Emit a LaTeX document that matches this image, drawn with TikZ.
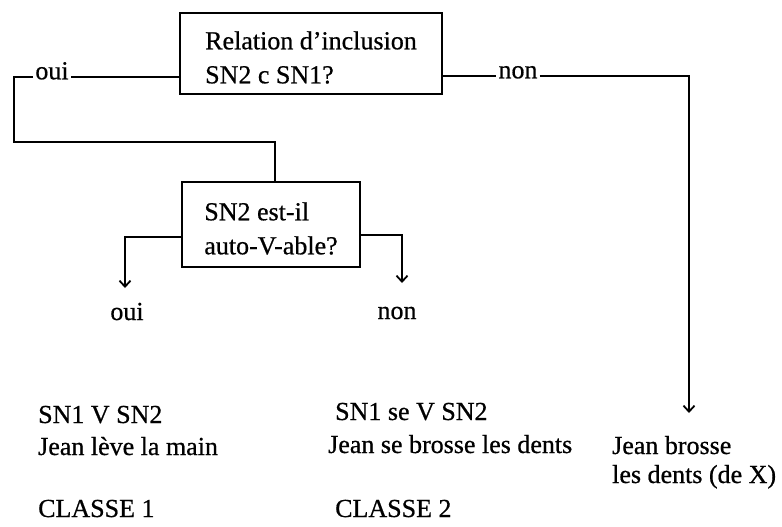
\documentclass[tikz,border=0pt]{standalone}
\usepackage{fontspec}
\setmainfont{Liberation Serif}[FakeBold=0.6]
\usetikzlibrary{arrows.meta}
\begin{document}
\begin{tikzpicture}[x=1pt,y=-1pt,
  every node/.style={font=\fontsize{26}{34}\selectfont},
  qbox/.style={draw, line width=2.2pt, align=left, inner sep=0pt},
  lbl/.style={inner sep=2pt, anchor=mid},
  txt/.style={inner sep=0pt, anchor=base west},
  conn/.style={line width=1.8pt},
  arr/.style={conn, -{Straight Barb[length=6pt,width=11pt,line width=1.8pt]}}]
\useasboundingbox[fill=white] (0,0) rectangle (782,527);
% question boxes
\node[qbox, minimum width=262pt, minimum height=81pt] (q1) at (311,53.5)
  {\rule{0pt}{26pt}Relation d’inclusion\\SN2 c SN1?};
\node[qbox, minimum width=178pt, minimum height=85pt] (q2) at (271,224.5)
  {\rule{0pt}{26pt}SN2 est-il\\auto-V-able?};
% branch labels
\node[lbl] (oui1) at (52,77) {oui};
\node[lbl] (non1) at (518,76) {non};
\node[txt, anchor=base] (oui2) at (127,320) {oui};
\node[txt, anchor=base] (non2) at (397,319) {non};
% arrow ends
\coordinate (k1) at (14,142);
\coordinate (t1) at (125,288);
\coordinate (t2) at (402,283);
\coordinate (t3) at (689,413);
% connectors
\draw[conn] (q1.west |- oui1.mid) -- (oui1.mid east);
\draw[conn] (oui1.mid west) -| (k1) -| ([xshift=4pt]q2.north);
\draw[conn] (q1.east |- non1.mid) -- (non1.mid west);
\draw[arr] (non1.mid east) -| (t3);
\draw[arr] ([yshift=-12.5pt]q2.west) -| (t1);
\draw[arr] ([yshift=-10.5pt]q2.east) -| (t2);
% results
\node[txt] (r1a) at (38,423) {SN1 V SN2};
\node[txt] (r1b) at (38,455) {Jean lève la main};
\node[txt] (c1) at (38,517) {CLASSE 1};
\node[txt] (r2a) at (335,420) {SN1 se V SN2};
\node[txt] (r2b) at (328,453) {Jean se brosse les dents};
\node[txt] (c2) at (335,517) {CLASSE 2};
\node[txt] (r3a) at (612,454) {Jean brosse};
\node[txt] (r3b) at (612,483) {les dents (de X)};
\end{tikzpicture}
\end{document}
